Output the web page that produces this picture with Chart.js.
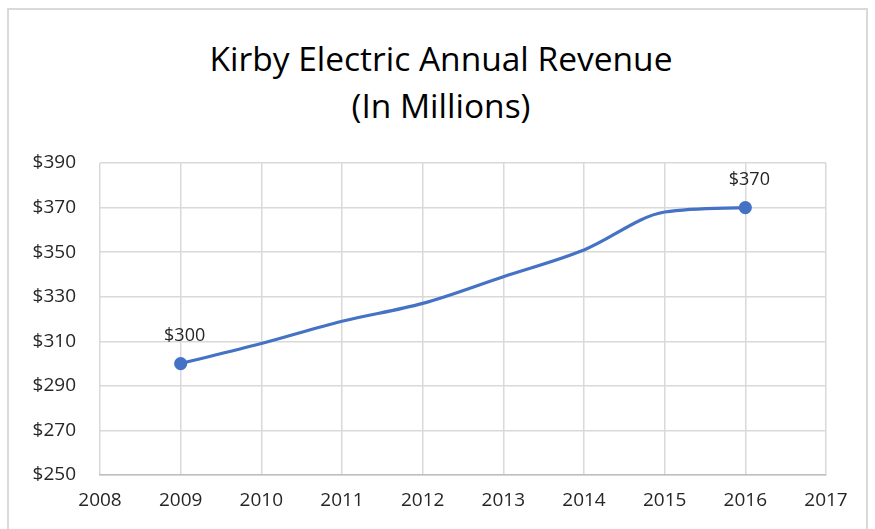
<!DOCTYPE html>
<html lang="en">
<head>
  <meta charset="UTF-8" />
  <title>Kirby Electric Annual Revenue</title>
  <script src="https://cdn.jsdelivr.net/npm/chart.js"></script>
  <style>
    html, body {
      margin: 0;
      padding: 0;
      background: #ffffff;
      overflow: hidden;
    }
    .frame {
      position: absolute;
      left: 7px;
      top: 8px;
      width: 861px;
      height: 540px;
      border: 2px solid #d9d9d9;
      box-sizing: border-box;
    }
    .title {
      position: absolute;
      left: 0;
      top: 35px;
      width: 882px;
      text-align: center;
      font-family: 'Open Sans', sans-serif;
      font-size: 33.5px;
      line-height: 47px;
      color: #000000;
    }
    #chart {
      position: absolute;
      left: 0;
      top: 0;
    }
  </style>
</head>
<body>
  <div class="frame"></div>
  <div class="title">Kirby Electric Annual Revenue<br>(In Millions)</div>
  <canvas id="chart" width="875" height="529"></canvas>

  <script>
    const years = [2009, 2010, 2011, 2012, 2013, 2014, 2015, 2016];
    const revenue = [300, 309, 319, 327, 339, 351, 368, 370];
    const labeledPoints = [0, 7];

    const fontFamily = "'Open Sans', sans-serif";

    // draws the "$300" / "$370" labels above the marked points
    const pointLabels = {
      id: "pointLabels",
      afterDatasetsDraw(chart) {
        const ctx = chart.ctx;
        const meta = chart.getDatasetMeta(0);
        ctx.save();
        ctx.font = "18px " + fontFamily;
        ctx.fillStyle = "#262626";
        ctx.textAlign = "center";
        ctx.textBaseline = "bottom";
        labeledPoints.forEach(i => {
          const pt = meta.data[i];
          ctx.fillText("$" + revenue[i], pt.x + 4, pt.y - 19);
        });
        ctx.restore();
      }
    };

    new Chart(document.getElementById("chart").getContext("2d"), {
      type: "line",
      data: {
        datasets: [{
          label: "Revenue",
          data: years.map((y, i) => ({ x: y, y: revenue[i] })),
          borderColor: "#4472c4",
          backgroundColor: "#4472c4",
          borderWidth: 3.2,
          cubicInterpolationMode: "monotone",
          pointRadius: years.map((y, i) => labeledPoints.includes(i) ? 5 : 0),
          pointHoverRadius: 0
        }]
      },
      options: {
        responsive: false,
        animation: false,
        layout: {
          padding: { left: 20, right: 49, top: 163, bottom: 0 }
        },
        plugins: {
          legend: { display: false },
          tooltip: { enabled: false },
          title: { display: false }
        },
        scales: {
          x: {
            type: "linear",
            min: 2008,
            max: 2017,
            ticks: {
              stepSize: 1,
              color: "#262626",
              font: { family: fontFamily, size: 19 },
              padding: 14,
              callback: v => String(v)
            },
            grid: { color: "#d9d9d9", lineWidth: 1.5, drawTicks: false },
            border: { color: "#bfbfbf", width: 1.5 },
            afterFit(s) { s.height = 54; }
          },
          y: {
            min: 250,
            max: 390,
            ticks: {
              stepSize: 20,
              color: "#262626",
              font: { family: fontFamily, size: 19 },
              padding: 24,
              callback: v => "$" + v
            },
            grid: { color: "#d9d9d9", lineWidth: 1.5, drawTicks: false },
            border: { display: false },
            afterFit(s) { s.width = 80; }
          }
        }
      },
      plugins: [pointLabels]
    });
  </script>
</body>
</html>
